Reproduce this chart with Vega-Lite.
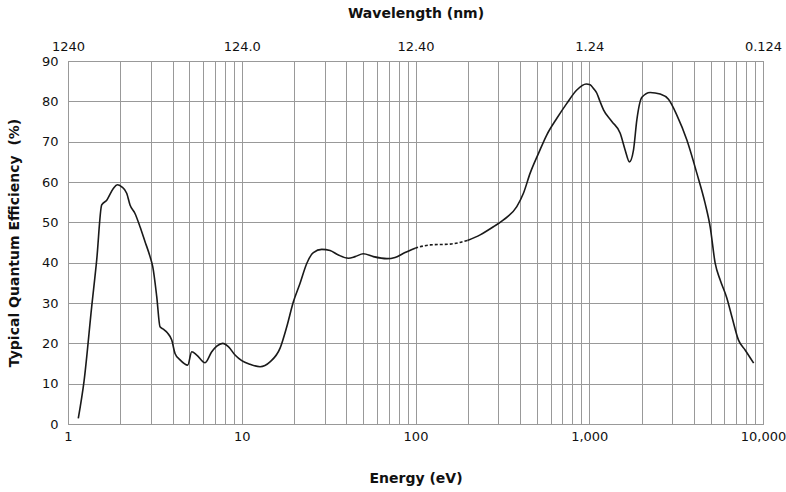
{
  "$schema": "https://vega.github.io/schema/vega-lite/v6.json",
  "width": 695,
  "height": 363,
  "autosize": {"type": "none"},
  "padding": {"left": 68, "top": 61, "right": 23, "bottom": 68},
  "config": {
    "view": {"stroke": "#8a8a8a", "strokeWidth": 1},
    "font": "DejaVu Sans",
    "axis": {
      "labelFont": "DejaVu Sans",
      "titleFont": "DejaVu Sans",
      "labelFontSize": 13,
      "titleFontSize": 14,
      "titleFontWeight": "bold",
      "labelColor": "#111",
      "titleColor": "#111",
      "gridColor": "#999999",
      "gridOpacity": 1,
      "gridWidth": 1,
      "ticks": false,
      "domain": false
    }
  },
  "data": {
    "values": [
      {"E": 1.146, "QE": 1.4, "seg": "s1"},
      {"E": 1.236, "QE": 10.5, "seg": "s1"},
      {"E": 1.369, "QE": 29.1, "seg": "s1"},
      {"E": 1.463, "QE": 40.7, "seg": "s1"},
      {"E": 1.563, "QE": 54.3, "seg": "s1"},
      {"E": 1.671, "QE": 55.5, "seg": "s1"},
      {"E": 1.823, "QE": 58.4, "seg": "s1"},
      {"E": 1.922, "QE": 59.3, "seg": "s1"},
      {"E": 2.038, "QE": 58.8, "seg": "s1"},
      {"E": 2.177, "QE": 57.2, "seg": "s1"},
      {"E": 2.275, "QE": 54.3, "seg": "s1"},
      {"E": 2.43, "QE": 52.2, "seg": "s1"},
      {"E": 2.597, "QE": 48.9, "seg": "s1"},
      {"E": 2.776, "QE": 45.2, "seg": "s1"},
      {"E": 2.966, "QE": 41.5, "seg": "s1"},
      {"E": 3.074, "QE": 39.0, "seg": "s1"},
      {"E": 3.241, "QE": 31.6, "seg": "s1"},
      {"E": 3.386, "QE": 24.1, "seg": "s1"},
      {"E": 3.537, "QE": 23.5, "seg": "s1"},
      {"E": 3.73, "QE": 22.6, "seg": "s1"},
      {"E": 3.954, "QE": 20.8, "seg": "s1"},
      {"E": 4.13, "QE": 17.5, "seg": "s1"},
      {"E": 4.414, "QE": 15.9, "seg": "s1"},
      {"E": 4.889, "QE": 14.6, "seg": "s1"},
      {"E": 5.155, "QE": 17.9, "seg": "s1"},
      {"E": 5.508, "QE": 17.1, "seg": "s1"},
      {"E": 6.148, "QE": 15.2, "seg": "s1"},
      {"E": 6.721, "QE": 17.9, "seg": "s1"},
      {"E": 7.18, "QE": 19.3, "seg": "s1"},
      {"E": 7.774, "QE": 20.0, "seg": "s1"},
      {"E": 8.372, "QE": 19.2, "seg": "s1"},
      {"E": 9.15, "QE": 17.1, "seg": "s1"},
      {"E": 10.0, "QE": 15.7, "seg": "s1"},
      {"E": 11.16, "QE": 14.8, "seg": "s1"},
      {"E": 12.75, "QE": 14.2, "seg": "s1"},
      {"E": 14.55, "QE": 15.4, "seg": "s1"},
      {"E": 16.62, "QE": 18.8, "seg": "s1"},
      {"E": 18.16, "QE": 24.1, "seg": "s1"},
      {"E": 19.82, "QE": 30.3, "seg": "s1"},
      {"E": 21.66, "QE": 34.9, "seg": "s1"},
      {"E": 23.66, "QE": 39.8, "seg": "s1"},
      {"E": 25.84, "QE": 42.5, "seg": "s1"},
      {"E": 28.88, "QE": 43.3, "seg": "s1"},
      {"E": 32.24, "QE": 43.0, "seg": "s1"},
      {"E": 35.98, "QE": 41.9, "seg": "s1"},
      {"E": 41.1, "QE": 41.1, "seg": "s1"},
      {"E": 44.9, "QE": 41.5, "seg": "s1"},
      {"E": 50.1, "QE": 42.2, "seg": "s1"},
      {"E": 57.2, "QE": 41.5, "seg": "s1"},
      {"E": 68.4, "QE": 41.0, "seg": "s1"},
      {"E": 76.3, "QE": 41.3, "seg": "s1"},
      {"E": 87.1, "QE": 42.5, "seg": "s1"},
      {"E": 99.5, "QE": 43.6, "seg": "s1"},
      {"E": 99.5, "QE": 43.6, "seg": "d"},
      {"E": 121.4, "QE": 44.4, "seg": "d"},
      {"E": 158.2, "QE": 44.6, "seg": "d"},
      {"E": 199, "QE": 45.5, "seg": "d"},
      {"E": 199, "QE": 45.5, "seg": "s2"},
      {"E": 235.5, "QE": 46.9, "seg": "s2"},
      {"E": 280.8, "QE": 48.9, "seg": "s2"},
      {"E": 320.9, "QE": 50.6, "seg": "s2"},
      {"E": 382.8, "QE": 53.9, "seg": "s2"},
      {"E": 418, "QE": 57.2, "seg": "s2"},
      {"E": 457, "QE": 62.2, "seg": "s2"},
      {"E": 510.5, "QE": 67.1, "seg": "s2"},
      {"E": 570, "QE": 71.7, "seg": "s2"},
      {"E": 651, "QE": 75.8, "seg": "s2"},
      {"E": 743, "QE": 79.5, "seg": "s2"},
      {"E": 848, "QE": 82.8, "seg": "s2"},
      {"E": 960, "QE": 84.3, "seg": "s2"},
      {"E": 1012, "QE": 84.1, "seg": "s2"},
      {"E": 1057, "QE": 83.2, "seg": "s2"},
      {"E": 1106, "QE": 82.0, "seg": "s2"},
      {"E": 1155, "QE": 79.9, "seg": "s2"},
      {"E": 1208, "QE": 77.9, "seg": "s2"},
      {"E": 1349, "QE": 75.0, "seg": "s2"},
      {"E": 1507, "QE": 72.1, "seg": "s2"},
      {"E": 1610, "QE": 67.9, "seg": "s2"},
      {"E": 1704, "QE": 65.0, "seg": "s2"},
      {"E": 1797, "QE": 67.9, "seg": "s2"},
      {"E": 1879, "QE": 75.4, "seg": "s2"},
      {"E": 2009, "QE": 81.0, "seg": "s2"},
      {"E": 2242, "QE": 82.2, "seg": "s2"},
      {"E": 2559, "QE": 81.8, "seg": "s2"},
      {"E": 2857, "QE": 80.5, "seg": "s2"},
      {"E": 3192, "QE": 76.6, "seg": "s2"},
      {"E": 3646, "QE": 70.4, "seg": "s2"},
      {"E": 4160, "QE": 62.2, "seg": "s2"},
      {"E": 4645, "QE": 54.7, "seg": "s2"},
      {"E": 4965, "QE": 48.9, "seg": "s2"},
      {"E": 5309, "QE": 39.8, "seg": "s2"},
      {"E": 5670, "QE": 35.7, "seg": "s2"},
      {"E": 6197, "QE": 31.2, "seg": "s2"},
      {"E": 6622, "QE": 26.6, "seg": "s2"},
      {"E": 7229, "QE": 20.8, "seg": "s2"},
      {"E": 7907, "QE": 18.3, "seg": "s2"},
      {"E": 8835, "QE": 15.1, "seg": "s2"}
    ]
  },
  "resolve": {"scale": {"x": "shared", "y": "shared"}, "axis": {"x": "independent"}},
  "layer": [
    {
      "transform": [{"filter": "datum.seg != 'd'"}],
      "mark": {"type": "line", "interpolate": "monotone", "color": "#1a1a1a", "strokeWidth": 1.6},
      "encoding": {
        "x": {
          "field": "E", "type": "quantitative",
          "scale": {"type": "log", "domain": [1, 10000], "nice": false},
          "axis": {
            "orient": "bottom",
            "title": "Energy (eV)",
            "values": [1,2,3,4,5,6,7,8,9,10,20,30,40,50,60,70,80,90,100,200,300,400,500,600,700,800,900,1000,2000,3000,4000,5000,6000,7000,8000,9000,10000],
            "labelExpr": "datum.value==1?'1':datum.value==10?'10':datum.value==100?'100':datum.value==1000?'1,000':datum.value==10000?'10,000':''",
            "labelPadding": 6,
            "titlePadding": 28,
            "labelOverlap": false,
            "labelBound": false,
            "labelFlush": false,
            "grid": true
          }
        },
        "y": {
          "field": "QE", "type": "quantitative",
          "scale": {"domain": [0, 90], "nice": false},
          "axis": {
            "title": "Typical Quantum Efficiency \u00a0(%)",
            "values": [0,10,20,30,40,50,60,70,80,90],
            "labelPadding": 10,
            "titlePadding": 20,
            "grid": true
          }
        },
        "detail": {"field": "seg"}
      }
    },
    {
      "transform": [{"filter": "datum.seg == 'd'"}],
      "mark": {"type": "line", "interpolate": "monotone", "color": "#1a1a1a", "strokeWidth": 1.6, "strokeDash": [3, 2]},
      "encoding": {
        "x": {
          "field": "E", "type": "quantitative",
          "scale": {"type": "log", "domain": [1, 10000], "nice": false},
          "axis": {
            "orient": "top",
            "title": "Wavelength (nm)",
            "values": [1, 10, 100, 1000, 10000],
            "labelExpr": "datum.value==1?'1240':datum.value==10?'124.0':datum.value==100?'12.40':datum.value==1000?'1.24':datum.value==10000?'0.124':''",
            "labelPadding": 8,
            "titlePadding": 20,
            "labelOverlap": false,
            "labelBound": false,
            "labelFlush": false,
            "grid": false
          }
        },
        "y": {"field": "QE", "type": "quantitative"}
      }
    }
  ]
}
